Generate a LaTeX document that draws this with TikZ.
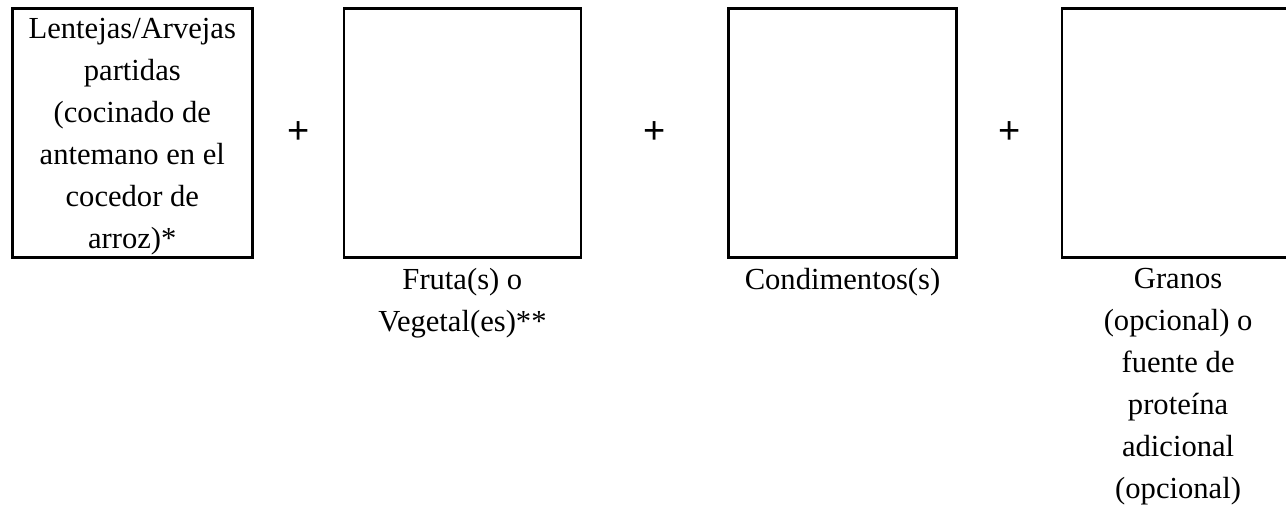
\documentclass[tikz,border=0pt]{standalone}
\usepackage{fontspec}
\setmainfont{Liberation Serif}
\newfontfamily\plusfont{Liberation Sans}
\usetikzlibrary{positioning,calc}
\tikzset{
  platobox/.style={draw, line width=1.3pt, inner sep=0pt, minimum height=124.5pt},
  platotxt/.style={font=\fontsize{15.3}{21}\selectfont, align=center, inner sep=0pt},
  platomas/.style={font=\plusfont\fontsize{19}{19}\selectfont, inner sep=0pt},
}

\begin{document}
\begin{tikzpicture}
  \useasboundingbox (0,0) rectangle (643pt,-252pt);
  \node[platobox, minimum width=120pt, anchor=north west] (b1) at (5.5pt,-3.5pt) {};
  \node[platobox, minimum width=118.5pt, right=44.5pt of b1] (b2) {};
  \node[platobox, minimum width=114pt, right=72.5pt of b2] (b3) {};
  \node[platobox, minimum width=116pt, right=51.5pt of b3] (b4) {};
  \node[platotxt] (t1) at ([yshift=-2pt]b1.center)
    {Lentejas/Arvejas\\ partidas\\ (cocinado de\\ antemano en el\\ cocedor de\\ arroz)*};
  \node[platotxt, below=4.5pt of b2] (l2) {Fruta(s) o\\ Vegetal(es)**};
  \node[platotxt, below=4.5pt of b3] (l3) {Condimentos(s)};
  \node[platotxt, below=4.5pt of b4] (l4) {Granos\\ (opcional) o\\ fuente de\\ proteína\\ adicional\\ (opcional)};
  \foreach \a/\b in {b1/b2,b2/b3,b3/b4}
    \node[platomas] (mas-\a) at ($(\a.east)!0.5!(\b.west)$) {+};
\end{tikzpicture}
\end{document}
